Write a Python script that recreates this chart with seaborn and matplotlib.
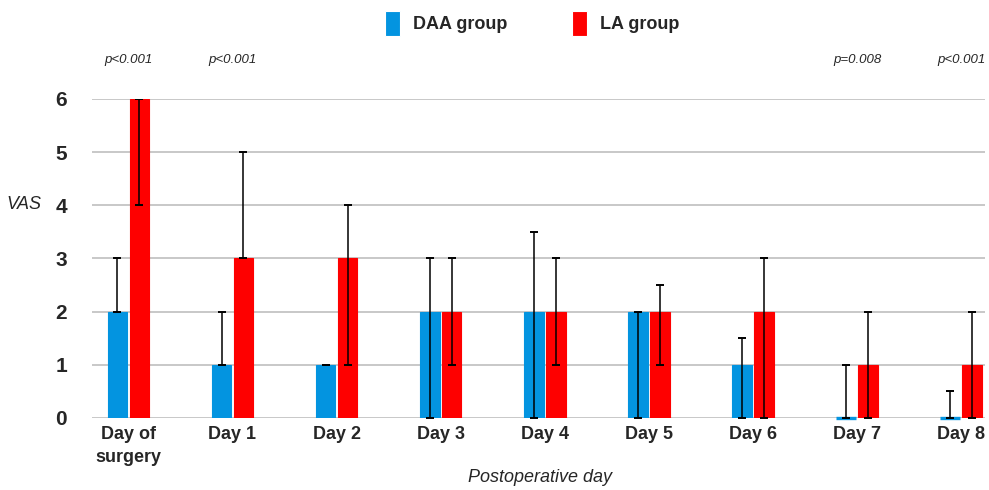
import matplotlib.pyplot as plt
import seaborn as sns
import pandas as pd

days = ['Day of\nsurgery', 'Day 1', 'Day 2', 'Day 3', 'Day 4',
        'Day 5', 'Day 6', 'Day 7', 'Day 8']
groups = ['DAA group', 'LA group']

daa_median = [2, 1, 1, 2, 2, 2, 1, 0, 0]
daa_low = [2, 1, 1, 0, 0, 0, 0, 0, 0]
daa_high = [3, 2, 1, 3, 3.5, 2, 1.5, 1, 0.5]

la_median = [6, 3, 3, 2, 2, 2, 2, 1, 1]
la_low = [4, 3, 1, 1, 1, 1, 0, 0, 0]
la_high = [6, 5, 4, 3, 3, 2.5, 3, 2, 2]

p_values = ['p<0.001', 'p<0.001', '', '', '', '', '', 'p=0.008', 'p<0.001']

colors = {'DAA group': '#0394e0', 'LA group': '#fe0000'}

df = pd.DataFrame({
    'Day': days * 2,
    'Group': ['DAA group'] * len(days) + ['LA group'] * len(days),
    'VAS': daa_median + la_median,
})

sns.set_style('white')
plt.rcParams['font.family'] = ['Liberation Sans', 'DejaVu Sans']

fig = plt.figure(figsize=(9.89, 4.9), dpi=100)
ax = fig.add_axes([0.093, 0.147, 0.903, 0.651])

sns.barplot(data=df, x='Day', y='VAS', hue='Group', order=days, hue_order=groups,
            palette=colors, width=0.42, gap=0.1, errorbar=None, saturation=1,
            linewidth=0.8, ax=ax)
for cont, col in zip(ax.containers, [colors[g] for g in groups]):
    for p in cont:
        p.set_edgecolor(col)
        if p.get_height() == 0:
            # zero medians show as a thin stroke on the baseline
            p.set_linewidth(2.4)
            p.set_clip_on(False)
        p.set_zorder(3)

# median with interquartile range
for cont, med, lo, hi in zip(ax.containers, [daa_median, la_median],
                             [daa_low, la_low], [daa_high, la_high]):
    xs = [p.get_x() + p.get_width() / 2 for p in cont]
    yerr = [[m - l for m, l in zip(med, lo)], [h - m for m, h in zip(med, hi)]]
    ax.errorbar(xs, med, yerr=yerr, fmt='none', ecolor='black', elinewidth=1.1,
                capsize=3, capthick=1.4, zorder=5)

ax.set_ylim(0, 6)
ax.set_xlim(-0.35, 8.23)
ax.set_yticks(range(7))
ax.yaxis.grid(True, color='#c8c8c8', linewidth=1.4)
ax.set_axisbelow(True)
sns.despine(ax=ax, left=True, bottom=True, top=True, right=True)
ax.tick_params(axis='both', length=0)
ax.tick_params(axis='y', pad=18, labelsize=15)
ax.tick_params(axis='x', pad=6, labelsize=13)
for lab in ax.get_xticklabels() + ax.get_yticklabels():
    lab.set_fontweight('bold')
for lab in ax.get_xticklabels():
    lab.set_linespacing(1.45)

for i, txt in enumerate(p_values):
    if txt:
        ax.text(i, 6.73, txt, ha='center', va='center', fontsize=9.5,
                style='italic', clip_on=False)

ax.set_ylabel('VAS', rotation=0, style='italic', fontsize=13, ha='center', va='center')
ax.yaxis.set_label_coords(-0.076, 0.668)
ax.set_xlabel('Postoperative day', style='italic', fontsize=13, va='center')
ax.xaxis.set_label_coords(0.502, -0.188)

handles, labels = ax.get_legend_handles_labels()
ax.legend_.remove()
fig.legend(handles, labels, loc='center', bbox_to_anchor=(0.538, 0.953), ncol=2,
           frameon=False, handlelength=0.85, handleheight=1.75, handletextpad=0.7,
           columnspacing=3.6, prop={'weight': 'bold', 'size': 13})

fig.savefig('out.png', dpi=100)
